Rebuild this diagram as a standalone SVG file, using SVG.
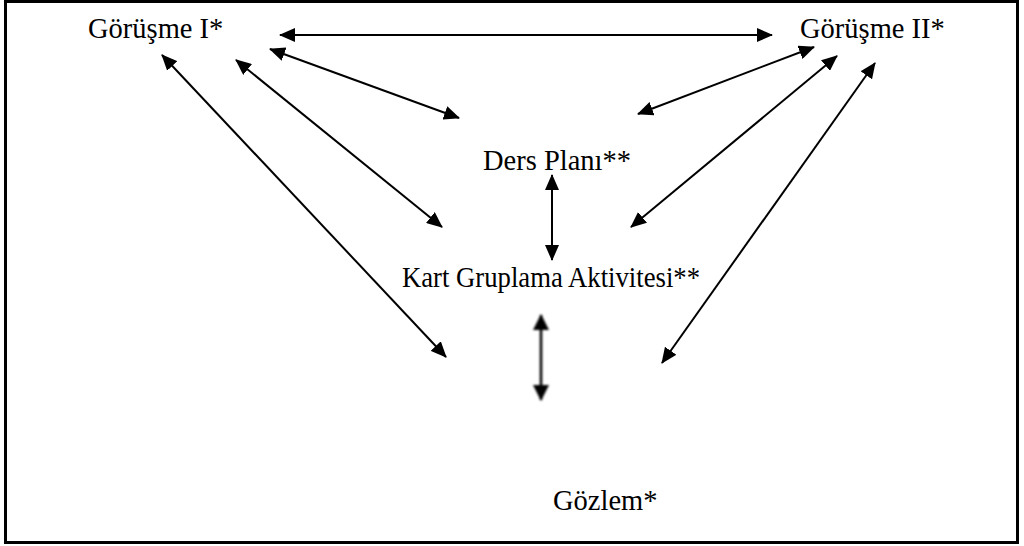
<svg xmlns="http://www.w3.org/2000/svg" width="1024" height="546" viewBox="0 0 1024 546">
  <style>
    .label { font-family: "Liberation Serif", "Times New Roman", serif; font-size: 28.5px; fill: #000; }
    .link { stroke: #000; stroke-width: 2; fill: none; marker-start: url(#head); marker-end: url(#head); }
    .link-soft { stroke: #000; stroke-width: 2.6; fill: none; marker-start: url(#head-wide); marker-end: url(#head-wide); }
  </style>
  <defs>
    <marker id="head" viewBox="0 0 16 14" refX="15" refY="7" markerWidth="16" markerHeight="14" markerUnits="userSpaceOnUse" orient="auto-start-reverse">
      <path d="M0,0 L16,7 L0,14 Z" fill="#000"/>
    </marker>
    <marker id="head-wide" viewBox="0 0 16 16" refX="15" refY="8" markerWidth="16" markerHeight="16" markerUnits="userSpaceOnUse" orient="auto-start-reverse">
      <path d="M0,0 L16,8 L0,16 Z" fill="#000"/>
    </marker>
    <filter id="soft" filterUnits="userSpaceOnUse" x="515" y="300" width="52" height="115">
      <feGaussianBlur stdDeviation="0.8"/>
    </filter>
  </defs>

  <rect x="0" y="0" width="1024" height="546" fill="#fff"/>
  <!-- outer frame -->
  <rect x="5.5" y="1.5" width="1012" height="541" fill="none" stroke="#000" stroke-width="3"/>

  <g id="connectors">
    <line class="link" x1="280" y1="35" x2="772" y2="35"/>
    <line class="link" x1="270" y1="49" x2="459" y2="118"/>
    <line class="link" x1="236" y1="60" x2="442" y2="227"/>
    <line class="link" x1="162" y1="55" x2="446" y2="357"/>
    <line class="link" x1="814" y1="47" x2="638" y2="114"/>
    <line class="link" x1="837" y1="56" x2="631" y2="227"/>
    <line class="link" x1="875" y1="63" x2="662" y2="363"/>
    <line class="link" x1="552" y1="175" x2="552" y2="260"/>
    <g filter="url(#soft)">
      <line class="link-soft" x1="541" y1="315" x2="541" y2="400"/>
    </g>
  </g>

  <g id="gorusme-1"><text class="label" x="88" y="38">Görüşme I*</text></g>
  <g id="gorusme-2"><text class="label" x="800" y="38">Görüşme II*</text></g>
  <g id="ders-plani"><text class="label" x="483" y="170">Ders Planı**</text></g>
  <g id="kart-gruplama"><text class="label" x="402" y="287" textLength="298" lengthAdjust="spacingAndGlyphs">Kart Gruplama Aktivitesi**</text></g>
  <g id="gozlem"><text class="label" x="553" y="510">Gözlem*</text></g>
</svg>
